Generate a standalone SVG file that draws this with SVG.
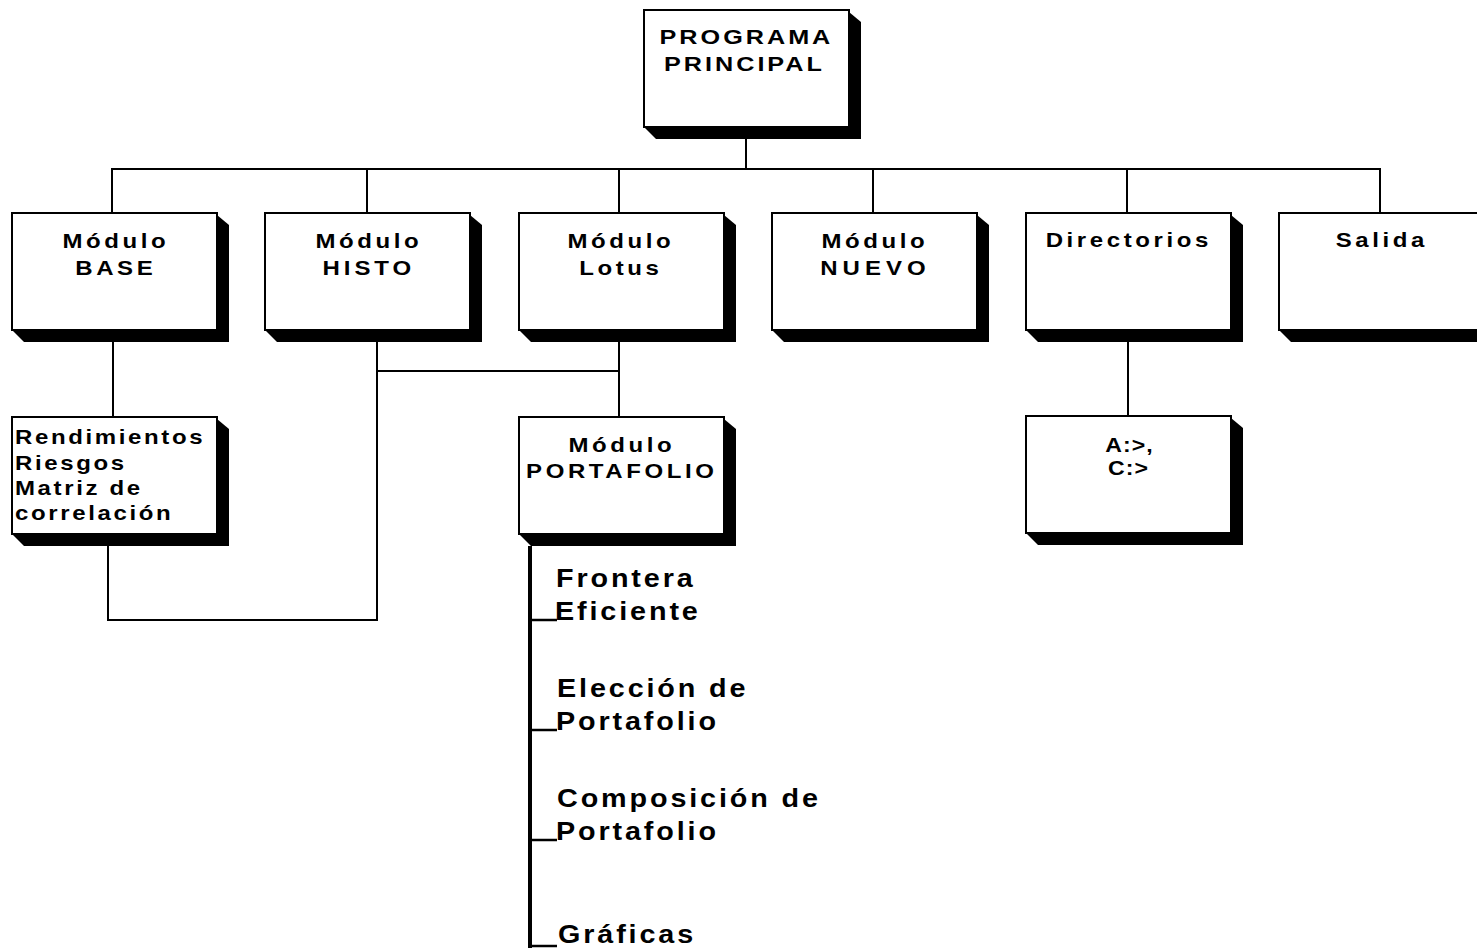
<svg xmlns="http://www.w3.org/2000/svg" xmlns:xlink="http://www.w3.org/1999/xlink" width="1477" height="948" viewBox="0 0 1477 948">
  <style>
    .face { fill: #ffffff; stroke: #000000; stroke-width: 2; }
    .shadow { fill: #000000; }
    .ln { stroke: #000000; stroke-width: 2; fill: none; }
    .thick { stroke: #000000; stroke-width: 4; fill: none; }
    .tick { stroke: #000000; stroke-width: 2.5; fill: none; }
    .t { font-family: "Liberation Sans", Arial, Helvetica, sans-serif; font-weight: bold; fill: #000000; }
    .mod { font-size: 20px; letter-spacing: 3px; text-anchor: middle; }
    .top { font-size: 21px; letter-spacing: 2.5px; text-anchor: middle; }
    .lst { font-size: 20px; letter-spacing: 2.2px; }
    .br { font-size: 25px; letter-spacing: 2.5px; }
    .drv { font-size: 21px; letter-spacing: 1px; text-anchor: middle; }
  </style>
  <defs>
    <g id="box">
      <polygon class="shadow" points="205,2 217,12 217,129 12,129 0,117"/>
      <rect class="face" x="0" y="0" width="205" height="117"/>
    </g>
  </defs>
  <rect x="0" y="0" width="1477" height="948" fill="#ffffff"/>

  <g id="connectors">
    <path class="ln" d="M746,127 V169"/>
    <path class="ln" d="M112,213 V169 H1380 V213"/>
    <path class="ln" d="M367,169 V213"/>
    <path class="ln" d="M619,169 V213"/>
    <path class="ln" d="M873,169 V213"/>
    <path class="ln" d="M1127,169 V213"/>
    <path class="ln" d="M113,342 V417"/>
    <path class="ln" d="M377,342 V620 H108 V546"/>
    <path class="ln" d="M377,371 H619"/>
    <path class="ln" d="M619,342 V417"/>
    <path class="ln" d="M1128,342 V416"/>
    <path class="thick" d="M530,546 V948"/>
    <path class="tick" d="M530,620 H557"/>
    <path class="tick" d="M530,730 H557"/>
    <path class="tick" d="M530,840 H557"/>
    <path class="tick" d="M530,946 H557"/>
  </g>

  <g id="programa-principal">
    <use xlink:href="#box" x="644" y="10"/>
    <text class="t top" transform="translate(745,44) scale(1.2,1)" x="1.2" y="0">PROGRAMA</text>
    <text class="t top" transform="translate(743,71) scale(1.2,1)" x="1.2" y="0">PRINCIPAL</text>
  </g>

  <g id="modulo-base">
    <use xlink:href="#box" x="12" y="213"/>
    <text class="t mod" transform="translate(114,248) scale(1.2,1)" x="1.5" y="0">Módulo</text>
    <text class="t mod" transform="translate(114,275) scale(1.2,1)" x="1.5" y="0">BASE</text>
  </g>

  <g id="modulo-histo">
    <use xlink:href="#box" x="265" y="213"/>
    <text class="t mod" transform="translate(367,248) scale(1.2,1)" x="1.5" y="0">Módulo</text>
    <text class="t mod" transform="translate(367,275) scale(1.2,1)" x="1.5" y="0" style="letter-spacing:3.3px">HISTO</text>
  </g>

  <g id="modulo-lotus">
    <use xlink:href="#box" x="519" y="213"/>
    <text class="t mod" transform="translate(619,248) scale(1.2,1)" x="1.5" y="0">Módulo</text>
    <text class="t mod" transform="translate(619,275) scale(1.2,1)" x="1.5" y="0">Lotus</text>
  </g>

  <g id="modulo-nuevo">
    <use xlink:href="#box" x="772" y="213"/>
    <text class="t mod" transform="translate(873,248) scale(1.2,1)" x="1.5" y="0">Módulo</text>
    <text class="t mod" transform="translate(873,275) scale(1.2,1)" x="2" y="0" style="letter-spacing:4.2px">NUEVO</text>
  </g>

  <g id="directorios">
    <use xlink:href="#box" x="1026" y="213"/>
    <text class="t mod" transform="translate(1127,247) scale(1.2,1)" x="1.5" y="0">Directorios</text>
  </g>

  <g id="salida">
    <use xlink:href="#box" x="1279" y="213"/>
    <text class="t mod" transform="translate(1380,247) scale(1.2,1)" x="1.5" y="0">Salida</text>
  </g>

  <g id="rendimientos">
    <use xlink:href="#box" x="12" y="417"/>
    <text class="t lst" transform="translate(15,444) scale(1.2,1)" x="0" y="0">Rendimientos</text>
    <text class="t lst" transform="translate(15,470) scale(1.2,1)" x="0" y="0">Riesgos</text>
    <text class="t lst" transform="translate(15,495) scale(1.2,1)" x="0" y="0">Matriz de</text>
    <text class="t lst" transform="translate(15,520) scale(1.2,1)" x="0" y="0">correlación</text>
  </g>

  <g id="modulo-portafolio">
    <use xlink:href="#box" x="519" y="417"/>
    <text class="t mod" transform="translate(620,452) scale(1.2,1)" x="1.5" y="0">Módulo</text>
    <text class="t mod" transform="translate(620,478) scale(1.2,1)" x="1.5" y="0">PORTAFOLIO</text>
  </g>

  <g id="unidades">
    <use xlink:href="#box" x="1026" y="416"/>
    <text class="t drv" transform="translate(1129,452) scale(1.1,1)" x="0.5" y="0">A:&gt;,</text>
    <text class="t drv" transform="translate(1128,475) scale(1.1,1)" x="0.5" y="0">C:&gt;</text>
  </g>

  <g id="frontera-eficiente">
    <text class="t br" transform="translate(556,587) scale(1.15,1)" x="0" y="0">Frontera</text>
    <text class="t br" transform="translate(555,620) scale(1.15,1)" x="0" y="0">Eficiente</text>
  </g>

  <g id="eleccion-portafolio">
    <text class="t br" transform="translate(557,697) scale(1.15,1)" x="0" y="0">Elección de</text>
    <text class="t br" transform="translate(556,730) scale(1.15,1)" x="0" y="0">Portafolio</text>
  </g>

  <g id="composicion-portafolio">
    <text class="t br" transform="translate(557,807) scale(1.15,1)" x="0" y="0">Composición de</text>
    <text class="t br" transform="translate(556,840) scale(1.15,1)" x="0" y="0">Portafolio</text>
  </g>

  <g id="graficas">
    <text class="t br" transform="translate(558,943) scale(1.15,1)" x="0" y="0">Gráficas</text>
  </g>
</svg>
